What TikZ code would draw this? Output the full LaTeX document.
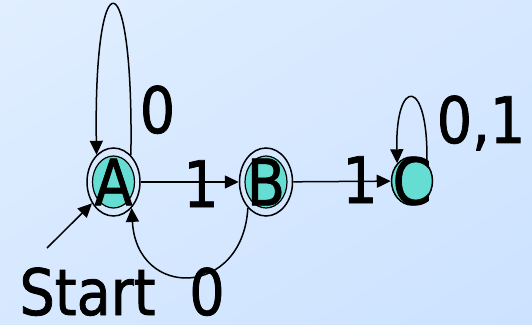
\documentclass[tikz,border=0pt]{standalone}
\usepackage{fontspec}
\setmainfont{DejaVu Sans}[FakeStretch=0.87,FakeBold=1.2]
\usetikzlibrary{arrows.meta,shapes.geometric,shadings}
\definecolor{bgtop}{HTML}{E0EEFF}
\definecolor{bgbot}{HTML}{CCE2FF}
\definecolor{stfill}{HTML}{66DDD2}

\begin{document}
\begin{tikzpicture}[x=1pt,y=1pt,>={Triangle[length=14pt,width=13pt]},line width=1.5pt,
  every node/.style={font=\fontsize{64}{70}\selectfont,inner sep=0pt},
  ring/.style={ellipse,draw,inner sep=0pt,minimum width=53pt,minimum height=68pt,
    path picture={\draw[fill=stfill,line width=1.2pt] (path picture bounding box.center) ellipse [x radius=21pt,y radius=26pt];}},
  plain/.style={ellipse,draw,fill=stfill,inner sep=0pt,minimum width=41pt,minimum height=48pt}]
\useasboundingbox (0,0) rectangle (532,324);
\shade[upper left=bgtop,lower right=bgbot,upper right=bgtop!50!bgbot,lower left=bgtop!50!bgbot] (0,0) rectangle (532,324);
% states
\node[ring,label=center:A] (A) at (113.5,142) {};
\node[ring,label=center:B] (B) at (266,142) {};
\node[plain,label=center:C] (C) at (412,143) {};
\coordinate (s) at (47,76);
% transitions
\draw[->] (A.57) .. controls +(3,200) and +(-3,200) .. (A.122);
\draw[->] (A) -- (B);
\draw[->] (B) -- (C);
\draw[->] (C.50) .. controls +(2,87) and +(-2,87) .. (C.130);
\draw[->] (B.235) .. controls +(-5,-90) and +(5,-92) .. (A.305);
\draw[->] (s) -- (A);
% labels
\node[anchor=base] (lAA) at (157.5,191) {0};
\node[anchor=base] (lAB) at (201,117) {1};
\node[anchor=base] (lBC) at (360,121) {1};
\node[anchor=base] (lCC) at (481,181) {0,1};
\node[anchor=base] (start) at (87.5,9) {Start};
\node[anchor=base] (lBA) at (207,9) {0};
\end{tikzpicture}
\end{document}
